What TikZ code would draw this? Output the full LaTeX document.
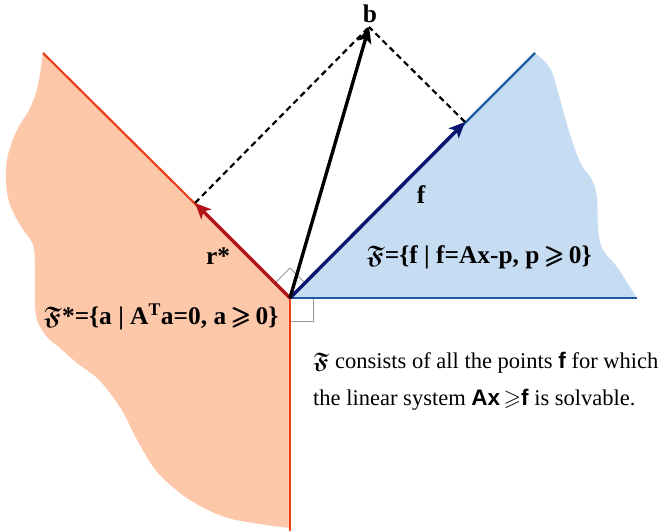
\documentclass[tikz,border=0pt]{standalone}
\usepackage{amssymb}
\usepackage{bm}
\usepackage{fontspec}
\setmainfont{Liberation Serif}
\setsansfont{Liberation Sans}
\usetikzlibrary{arrows.meta}
\definecolor{peach}{RGB}{253,199,170}
\definecolor{skyfill}{RGB}{198,220,243}
\definecolor{redline}{RGB}{232,64,28}
\definecolor{redarrow}{RGB}{178,20,24}
\definecolor{blueline}{RGB}{30,90,160}
\definecolor{bluearrow}{RGB}{12,22,110}
\definecolor{markgray}{RGB}{150,150,150}
\newcommand{\frakF}{$\bm{\mathfrak{F}}$}
\newcommand{\gs}{\,$\bm{\geqslant}$\,}
\begin{document}
\begin{tikzpicture}[x=1bp,y=-1bp,
  thinred/.style={draw=redline,line width=2.2bp},
  thinblue/.style={draw=blueline,line width=2.2bp},
  vec/.style={line width=3.4bp,-{Stealth[length=16bp,width=14bp,inset=4bp]}},
  dashline/.style={draw=black,line width=2.2bp,dash pattern=on 6bp off 4bp},
  rmark/.style={draw=markgray,line width=0.9bp},
  lab/.style={inner sep=0pt,font=\fontsize{25.5}{30}\selectfont\bfseries},
  captxt/.style={inner sep=0pt,anchor=base west,font=\fontsize{22.6}{27}\selectfont}]
\useasboundingbox (0,0) rectangle (661,532);
% coordinates
\coordinate (O) at (290,298);
\coordinate (RT) at (43,53);
\coordinate (RB) at (290,531);
\coordinate (BT) at (535,53);
\coordinate (BR) at (637,298);
\coordinate (R) at (195,203);
\coordinate (F) at (465,122);
\coordinate (B) at (369,27);
% fills
\fill[peach] plot[smooth,tension=0.6] coordinates {(43,53) (38,85) (30,108) (17,130) (8,155) (6,180) (10,205) (22,228) (33,245) (35,270) (35,300) (37,320) (47,337) (60,348) (77,363) (97,378) (113,397) (124,414) (134,434) (145,454) (158,473) (180,493) (202,507) (228,518) (260,524) (290,528)} -- (RB) -- (O) -- cycle;
\fill[skyfill] (O) -- (BT) -- plot[smooth,tension=0.6] coordinates {(535,53) (550,68) (558,92) (568,128) (580,162) (592,180) (597,198) (598,227) (602,248) (617,267) (630,287) (637,298)} -- cycle;
% right-angle marks
\draw[rmark] (O) ++(-15,-15) -- ++(15,-15) -- ++(15,15);
\draw[rmark] (290,321) -- (313,321) -- (313,298);
% boundary lines
\draw[thinred] (O) -- (RT);
\draw[thinred] (O) -- (RB);
\draw[thinblue] (O) -- (BT);
\draw[thinblue] (O) -- (BR);
% dashed
\draw[dashline] (R) -- (B);
\draw[dashline] (F) -- (B);
% vectors
\draw[vec,redarrow] (O) -- (R);
\draw[vec,bluearrow] (O) -- (F);
\draw[vec,black] (O) -- (B);
% labels
\node[lab] (bl) at (370,14) {b};
\node[lab] (fl) at (421,195) {f};
\node[lab] (rl) at (218,256) {r*};
\node[lab] (Fset) at (479,257) {\frakF=\{f | f=Ax-p, p\gs0\}};
\node[lab] (Fstar) at (161,317) {\frakF*=\{a | A\textsuperscript{T}a=0, a\gs0\}};
\node[captxt] (c1) at (313,368) {{\frakF} consists of all the points \textsf{\bfseries f} for which};
\node[captxt] (c2) at (313,405) {the linear system \textsf{\bfseries Ax}$\,\geqslant$\textsf{\bfseries f} is solvable.};
\end{tikzpicture}
\end{document}
